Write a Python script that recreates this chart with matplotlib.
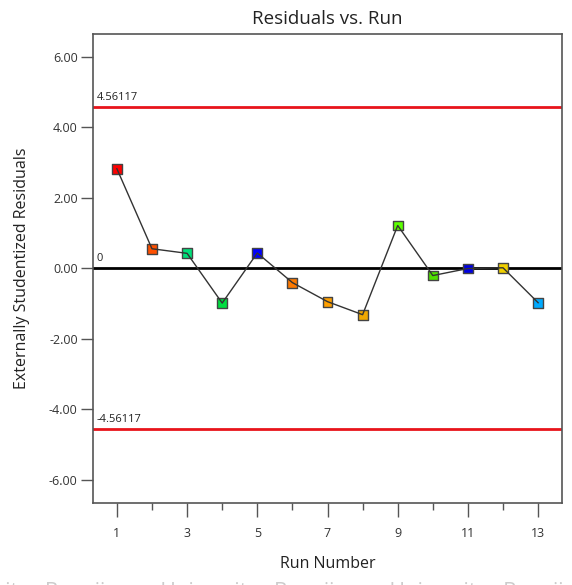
import matplotlib
matplotlib.use("Agg")
import matplotlib.pyplot as plt

run = [1, 2, 3, 4, 5, 6, 7, 8, 9, 10, 11, 12, 13]
resid = [2.82, 0.55, 0.42, -0.99, 0.43, -0.41, -0.95, -1.32, 1.21, -0.21, -0.01, 0.01, -0.98]
colors = ["#ff0000", "#ff5000", "#00e07a", "#00dd40", "#0000ff", "#ff7a00", "#ffa000",
          "#f0a800", "#5cff00", "#50e000", "#0000e0", "#f0d000", "#00aaff"]
limit = 4.56117
yticks = [-6, -4, -2, 0, 2, 4, 6]
xticks = [1, 3, 5, 7, 9, 11, 13]

plt.rcParams["font.family"] = ["Open Sans", "DejaVu Sans"]

fig = plt.figure(figsize=(5.72, 5.85), dpi=100)
ax = fig.add_axes([93 / 572, 1 - 503 / 585, 469 / 572, 469 / 585])

ax.set_xlim(0.32, 13.68)
ax.set_ylim(-6.66, 6.64)

ax.axhline(limit, color="#e8141b", lw=2, zorder=2)
ax.axhline(-limit, color="#e8141b", lw=2, zorder=2)
ax.axhline(0, color="black", lw=2, zorder=2)

ax.text(0.42, limit + 0.12, f"{limit:.5f}", fontsize=8, color="#222222", va="bottom")
ax.text(0.42, 0.12, "0", fontsize=8, color="#222222", va="bottom")
ax.text(0.42, -limit + 0.12, f"{-limit:.5f}", fontsize=8, color="#222222", va="bottom")

ax.scatter(run, resid, marker="s", s=50, c=colors, edgecolors="#444444", linewidths=1, zorder=3)
ax.plot(run, resid, color="#333333", lw=1, zorder=4)

ax.set_yticks(yticks)
ax.set_yticklabels([f"{v:.2f}" for v in yticks])
ax.set_xticks(xticks)
ax.set_xticks([2, 4, 6, 8, 10, 12], minor=True)
ax.tick_params(axis="y", length=9, width=1, color="#555555", labelsize=9, labelcolor="#333333", pad=2)
ax.tick_params(axis="x", which="major", length=10, width=1, color="#555555", labelsize=9,
               labelcolor="#333333", pad=7)
ax.tick_params(axis="x", which="minor", length=5, width=1, color="#555555")
for sp in ax.spines.values():
    sp.set_color("#555555")
    sp.set_linewidth(1.2)

ax.set_title("Residuals vs. Run", fontsize=13.5, color="#222222", pad=7)
ax.set_xlabel("Run Number", fontsize=11.5, color="#222222", labelpad=12)
ax.set_ylabel("Externally Studentized Residuals", fontsize=11.5, color="#222222", labelpad=14)

# faint watermark cut by the bottom edge
fig.text(0.5, -0.012, "ersitas Brawijaya    Universitas Brawijaya    Universitas Brawijaya",
         ha="center", va="center", fontsize=15, color="#cccccc")

fig.savefig("out.png", dpi=100)
